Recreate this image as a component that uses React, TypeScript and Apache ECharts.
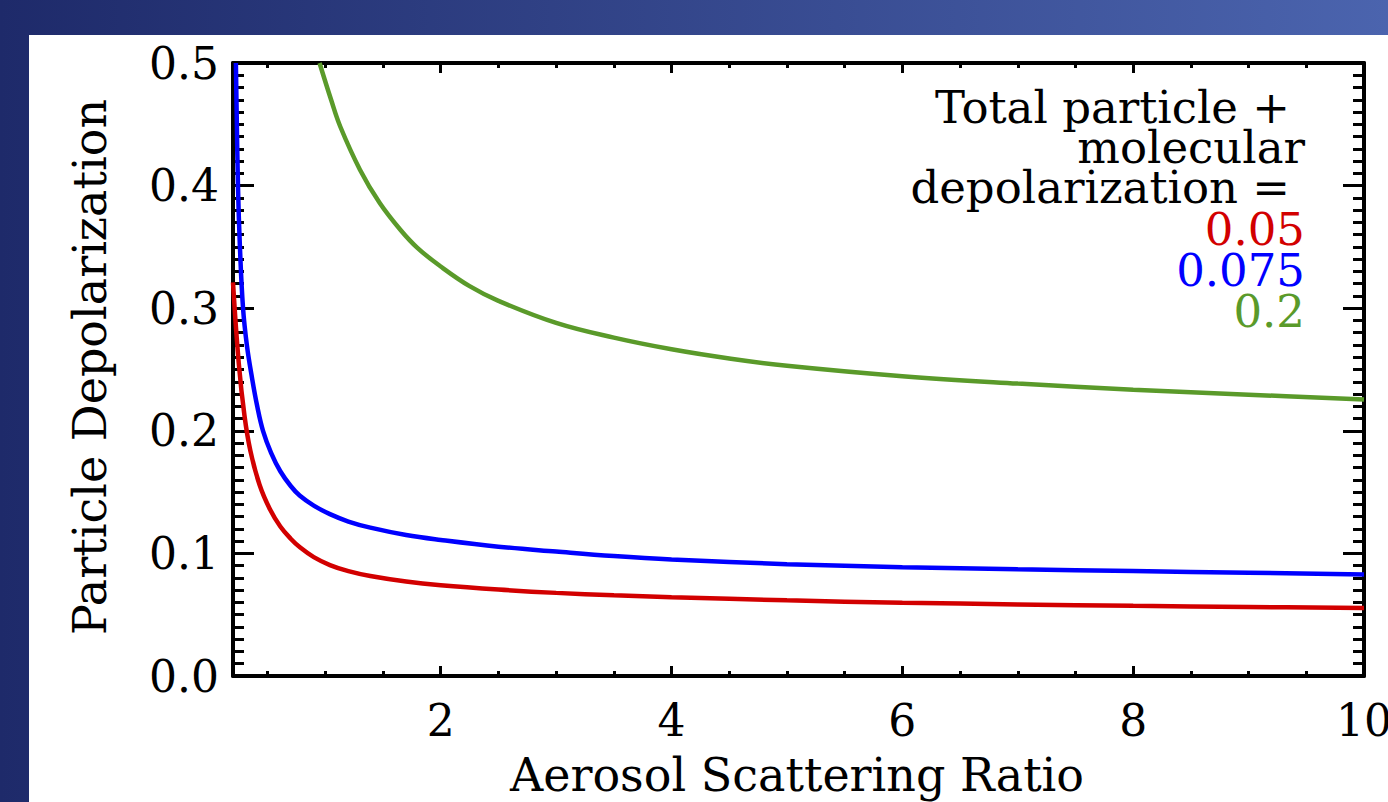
import React, { useEffect, useRef } from "react";
import * as echarts from "echarts";

// ---- data ----
const redX = [0.2, 0.25, 0.3, 0.35, 0.43, 0.52, 0.61, 0.7, 0.78, 0.9, 1.04, 1.2, 1.39, 1.7, 2, 2.5, 3, 3.5, 4, 5, 6, 7, 8, 9, 10];
const redY = [0.321, 0.255, 0.212, 0.184, 0.156, 0.136, 0.122, 0.112, 0.105, 0.097, 0.0905, 0.0855, 0.0815, 0.077, 0.074, 0.0705, 0.0678, 0.0658, 0.0643, 0.0617, 0.0598, 0.0584, 0.0572, 0.0563, 0.0555];

const blueX = [0.225, 0.243, 0.26, 0.287, 0.32, 0.365, 0.41, 0.46, 0.53, 0.61, 0.7, 0.78, 0.9, 1.04, 1.2, 1.39, 1.7, 2, 2.5, 3, 3.5, 4, 5, 6, 7, 8, 9, 10];
const blueY = [0.5, 0.4, 0.35, 0.3, 0.27, 0.243, 0.22, 0.2, 0.182, 0.167, 0.155, 0.147, 0.139, 0.132, 0.126, 0.121, 0.115, 0.111, 0.1055, 0.1015, 0.0978, 0.095, 0.0912, 0.0888, 0.0871, 0.0856, 0.0842, 0.0828];

const greenX = [0.95, 1.05, 1.13, 1.3, 1.47, 1.65, 1.8, 2, 2.25, 2.5, 3, 3.5, 4, 4.5, 5, 6, 7, 8, 9, 10];
const greenY = [0.5, 0.47, 0.448, 0.413, 0.386, 0.364, 0.349, 0.334, 0.318, 0.306, 0.288, 0.276, 0.2665, 0.259, 0.253, 0.2445, 0.2385, 0.2335, 0.2295, 0.2255];

const xMajorTicks = [2, 4, 6, 8, 10];
const xMinorTicks = [0.5, 1, 1.5, 2.5, 3, 3.5, 4.5, 5, 5.5, 6.5, 7, 7.5, 8.5, 9, 9.5];
const seriesNames = ["0.05", "0.075", "0.2"];
const seriesColors = ["#d20000", "#0000ff", "#5a9a2a"];
const legendTitle = ["Total particle +", "molecular", "depolarization ="];

const FONT = "DejaVu Serif";

function zip(xs: number[], ys: number[]) {
  return xs.map((x, i) => [x, ys[i]]);
}

export default function App() {
  const ref = useRef<HTMLDivElement>(null);
  useEffect(() => {
    document.body.style.margin = "0";
    const chart = echarts.init(ref.current!, null, { renderer: "svg" });
    const tickLine = { color: "#000", width: 3 };
    const baseX = { type: "value", min: 0.2, max: 10, splitLine: { show: false } };
    const baseY = { type: "value", min: 0, max: 0.5, interval: 0.1, splitLine: { show: false }, minorSplitLine: { show: false } };
    chart.setOption({
      animation: false,
      backgroundColor: "transparent",
      grid: { left: 233, right: 24, top: 63, bottom: 126, outerBoundsMode: "none", containLabel: false },
      graphic: [
        {
          type: "rect",
          z: -10,
          silent: true,
          shape: { x: 0, y: 0, width: 1388, height: 802 },
          style: {
            fill: new echarts.graphic.LinearGradient(0, 0, 1, 0, [
              { offset: 0, color: "#1e2a6a" },
              { offset: 1, color: "#4b64ae" },
            ]),
          },
        },
        {
          type: "rect",
          z: -9,
          silent: true,
          shape: { x: 29, y: 35, width: 1400, height: 800 },
          style: { fill: "#ffffff" },
        },
        {
          type: "text",
          x: 90,
          y: 367,
          rotation: Math.PI / 2,
          style: {
            text: "Particle Depolarization",
            fontFamily: FONT,
            fontSize: 46,
            fill: "#000",
            align: "center",
            verticalAlign: "middle",
          },
        },
        {
          type: "text",
          x: 797,
          y: 775,
          style: {
            text: "Aerosol Scattering Ratio",
            fontFamily: FONT,
            fontSize: 46,
            fill: "#000",
            align: "center",
            verticalAlign: "middle",
          },
        },
        ...legendTitle.map((t, i) => ({
          type: "text",
          x: i === 1 ? 1305 : 1290,
          y: 107 + i * 40,
          style: {
            text: t,
            fontFamily: FONT,
            fontSize: 45,
            lineHeight: 38,
            fill: "#000",
            align: "right",
            verticalAlign: "middle",
          },
        })),
        ...seriesNames.map((t, i) => ({
          type: "text",
          x: 1305,
          y: 229 + i * 41,
          style: {
            text: t,
            fontFamily: FONT,
            fontSize: 45,
            lineHeight: 38,
            fill: seriesColors[i],
            align: "right",
            verticalAlign: "middle",
          },
        })),
      ],
      xAxis: [
        {
          ...baseX,
          position: "bottom",
          axisLine: { show: true, onZero: false, lineStyle: { color: "#000", width: 4 } },
          axisTick: { show: true, inside: true, length: 10, customValues: xMajorTicks, lineStyle: tickLine },
          axisLabel: { show: true, customValues: xMajorTicks, fontFamily: FONT, fontSize: 44, color: "#000", margin: 22 },
        },
        {
          ...baseX,
          position: "bottom",
          axisLine: { show: false, onZero: false },
          axisTick: { show: true, inside: true, length: 5, customValues: xMinorTicks, lineStyle: tickLine },
          axisLabel: { show: false },
        },
        {
          ...baseX,
          position: "top",
          axisLine: { show: true, onZero: false, lineStyle: { color: "#000", width: 4 } },
          axisTick: { show: true, inside: true, length: 10, customValues: xMajorTicks, lineStyle: tickLine },
          axisLabel: { show: false },
        },
        {
          ...baseX,
          position: "top",
          axisLine: { show: false, onZero: false },
          axisTick: { show: true, inside: true, length: 5, customValues: xMinorTicks, lineStyle: tickLine },
          axisLabel: { show: false },
        },
      ],
      yAxis: [
        {
          ...baseY,
          position: "left",
          axisLine: { show: true, onZero: false, lineStyle: { color: "#000", width: 4 } },
          axisTick: { show: true, inside: true, length: 21, lineStyle: tickLine },
          minorTick: { show: true, splitNumber: 10, length: 11, lineStyle: tickLine },
          axisLabel: {
            show: true,
            fontFamily: FONT,
            fontSize: 44,
            color: "#000",
            margin: 14,
            formatter: (v: number) => v.toFixed(1),
          },
        },
        {
          ...baseY,
          position: "right",
          axisLine: { show: true, onZero: false, lineStyle: { color: "#000", width: 4 } },
          axisTick: { show: true, inside: true, length: 21, lineStyle: tickLine },
          minorTick: { show: true, splitNumber: 10, length: 11, lineStyle: tickLine },
          axisLabel: { show: false },
        },
      ],
      series: [
        [redX, redY],
        [blueX, blueY],
        [greenX, greenY],
      ].map(([xs, ys], i) => ({
        name: seriesNames[i],
        type: "line",
        xAxisIndex: 0,
        yAxisIndex: 0,
        data: zip(xs, ys),
        showSymbol: false,
        smooth: 0.4,
        lineStyle: { color: seriesColors[i], width: 4.5 },
        z: 1,
      })),
    });
    return () => chart.dispose();
  }, []);
  return <div ref={ref} style={{ position: "absolute", left: 0, top: 0, width: 1388, height: 802 }} />;
}
